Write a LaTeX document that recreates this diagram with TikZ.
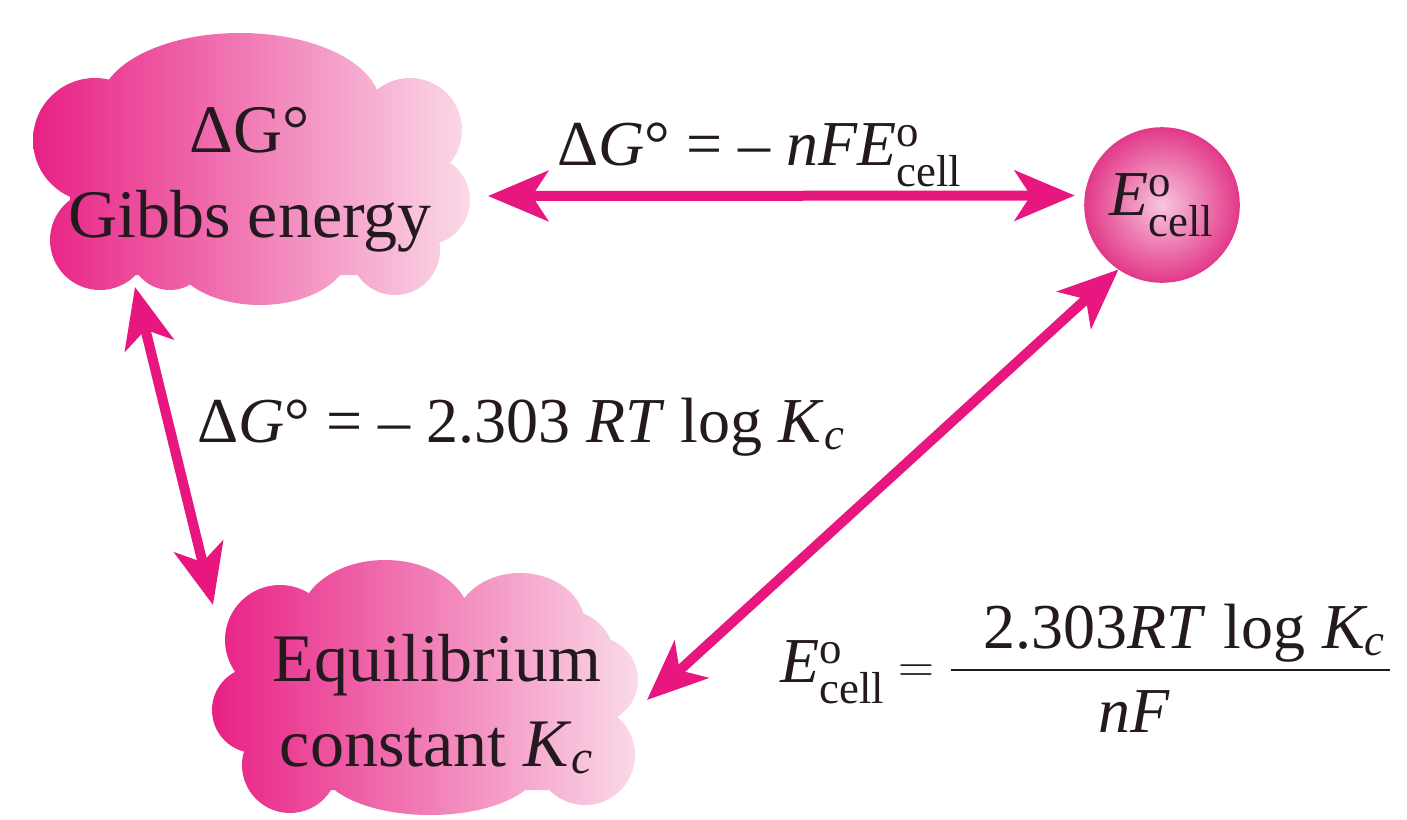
\documentclass[tikz,border=0pt]{standalone}
\usepackage{fontspec}
\usepackage{amsmath}
\setmainfont{Liberation Serif}
\usetikzlibrary{arrows.meta,calc}
\definecolor{arrowpink}{RGB}{232,23,127}
\definecolor{clouddark}{RGB}{232,32,132}
\definecolor{cloudlight}{RGB}{250,218,232}
\definecolor{ballout}{RGB}{226,58,138}
\definecolor{ballin}{RGB}{248,198,222}
\definecolor{ink}{RGB}{35,25,30}
\begin{document}
\begin{tikzpicture}[x=0.5pt,y=-0.5pt,
  connector/.style={arrowpink, line width=5pt,
    {Stealth[length=30pt,width=25pt,inset=8pt]}-{Stealth[length=30pt,width=25pt,inset=8pt]}},
  lbl/.style={font=\fontsize{32}{38}\selectfont, inner sep=0pt, text=ink},
  cloudtext/.style={font=\fontsize{34}{42.5}\selectfont, align=center, inner sep=0pt, text=ink},
  cloudfill/.style={left color=clouddark, right color=cloudlight, rounded corners=25pt},
  ballnode/.style={circle, minimum size=77pt, inner sep=0pt, shading=radial,
    inner color=ballin, outer color=ballout, draw=ballout, line width=0.8pt,
    font=\fontsize{32}{38}\selectfont, text=ink}]
\useasboundingbox[fill=white] (0,0) rectangle (1407,819);

% clouds (core polygon + puffs, all with the same winding)
\shade[cloudfill] (70,90) -- (440,90) -- (440,275) -- (70,275) -- cycle
  (95,140) circle (62) (100,240) circle (50) (240,105) ellipse (140 and 72)
  (410,130) circle (52) (425,200) circle (45) (395,250) circle (45)
  (260,250) ellipse (90 and 55) (170,250) circle (40);
\shade[cloudfill] (250,610) -- (615,610) -- (615,790) -- (250,790) -- cycle
  (280,640) circle (55) (255,710) circle (43) (290,765) circle (48)
  (385,620) ellipse (85 and 60) (520,625) ellipse (65 and 52)
  (595,680) circle (43) (585,755) circle (50) (430,765) ellipse (110 and 50);

% nodes
\node[cloudtext] (gibbs) at (250,180) {ΔG°\\Gibbs energy};
\node[cloudtext] (equil) at (437,704) {Equilibrium\\constant \textit{K}$_{\mathit{c}}$};
\node[ballnode] (ecell) at (1162,205) {$\mathit{E}^{\mathrm{o}}_{\mathrm{cell}}$};

% labels
\node[lbl, anchor=base west] (l1) at (557,165) {Δ\textit{G}° = – \textit{nFE}$^{\mathrm{o}}_{\mathrm{cell}}$};
\node[lbl, anchor=base west] (l2) at (197,442) {Δ\textit{G}° = – 2.303 \textit{RT} log \textit{K}$_{\mathit{c}}$};
\node[lbl, anchor=base west] (l3) at (780,682) {$\mathit{E}^{\mathrm{o}}_{\mathrm{cell}} = \dfrac{\hspace{16pt}\text{2.303}\mathit{RT}\;\log\, \mathit{K}_{\mathit{c}}\hspace{2pt}}{\rule{0pt}{0.88em}\mathit{nF}\hspace{36pt}}$};

% connector ends on the clouds
\coordinate (gibbs-r) at (488,196);
\coordinate (gibbs-b) at (135,287);
\coordinate (equil-t) at (213,605);
\coordinate (equil-r) at (647,700);

% connectors
\draw[connector, shorten >=5pt] (gibbs-r) -- (ecell.173);
\draw[connector] (gibbs-b) -- (equil-t);
\draw[connector] (equil-r) -- (ecell.236);
\end{tikzpicture}
\end{document}
